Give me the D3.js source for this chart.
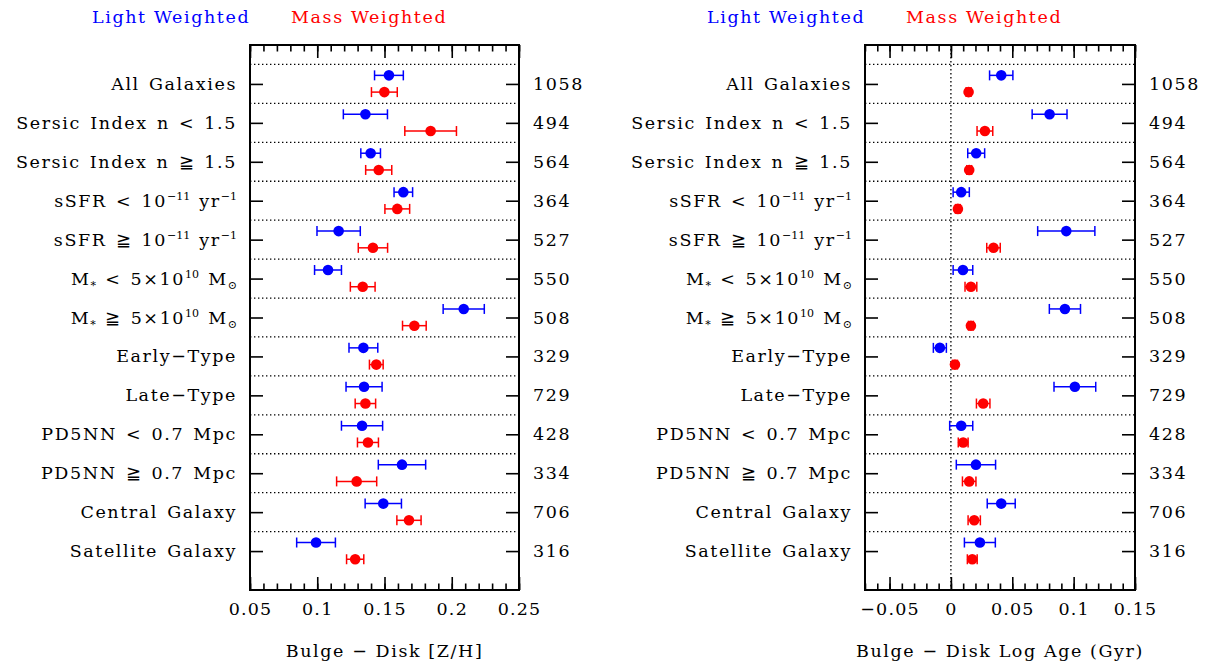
<!DOCTYPE html>
<html>
<head>
<meta charset="utf-8">
<script src="https://cdn.jsdelivr.net/npm/d3@7"></script>
<style>
  body { margin: 0; background: #fff; }
  text { font-family: "DejaVu Serif", serif; font-size: 17.5px; letter-spacing: 1.6px; fill: #000; }
  text.lab { word-spacing: 2px; }
</style>
</head>
<body>
<script>
// Row labels ( ^{..} superscript, _{..} subscript )
const categories = [
  'All Galaxies',
  'Sersic Index n < 1.5',
  'Sersic Index n ≧ 1.5',
  'sSFR < 10^{−11} yr^{−1}',
  'sSFR ≧ 10^{−11} yr^{−1}',
  'M_{*} < 5×10^{10} M_{⊙}',
  'M_{*} ≧ 5×10^{10} M_{⊙}',
  'Early−Type',
  'Late−Type',
  'PD5NN < 0.7 Mpc',
  'PD5NN ≧ 0.7 Mpc',
  'Central Galaxy',
  'Satellite Galaxy'
];
const counts = [1058, 494, 564, 364, 527, 550, 508, 329, 729, 428, 334, 706, 316];

// Bulge - Disk [Z/H]
const zhLight    = [0.1533, 0.1358, 0.1397, 0.1640, 0.1159, 0.1080, 0.2089, 0.1343, 0.1348, 0.1333, 0.1630, 0.1491, 0.0991];
const zhLightErr = [0.0107, 0.0164, 0.0073, 0.0069, 0.0161, 0.0100, 0.0153, 0.0107, 0.0134, 0.0153, 0.0176, 0.0135, 0.0144];
const zhMass     = [0.1499, 0.1843, 0.1457, 0.1595, 0.1414, 0.1338, 0.1722, 0.1439, 0.1358, 0.1377, 0.1293, 0.1682, 0.1282];
const zhMassErr  = [0.0096, 0.0192, 0.0097, 0.0092, 0.0109, 0.0092, 0.0088, 0.0051, 0.0076, 0.0078, 0.0149, 0.0090, 0.0064];

// Bulge - Disk Log Age
const ageLight    = [0.0410, 0.0804, 0.0206, 0.0084, 0.0940, 0.0098, 0.0929, -0.0090, 0.1010, 0.0084, 0.0204, 0.0410, 0.0236];
const ageLightErr = [0.0095, 0.0142, 0.0069, 0.0066, 0.0233, 0.0080, 0.0127, 0.0053, 0.0170, 0.0094, 0.0160, 0.0114, 0.0126];
const ageMass     = [0.0144, 0.0277, 0.0149, 0.0057, 0.0347, 0.0163, 0.0163, 0.0033, 0.0263, 0.0100, 0.0149, 0.0190, 0.0174];
const ageMassErr  = [0.0020, 0.0064, 0.0020, 0.0020, 0.0055, 0.0048, 0.0020, 0.0020, 0.0055, 0.0040, 0.0055, 0.0050, 0.0040];

const zhTicks = [0.05, 0.1, 0.15, 0.2, 0.25];
const zhTickLabels = ['0.05', '0.1', '0.15', '0.2', '0.25'];
const ageTicks = [-0.05, 0, 0.05, 0.1, 0.15];
const ageTickLabels = ['−0.05', '0', '0.05', '0.1', '0.15'];

const width = 1209, height = 665;
const svg = d3.select('body').append('svg')
  .attr('width', width)
  .attr('height', height);

const y = d3.scaleLinear().domain([0, 14]).range([45, 590]);
const rowIdx = d3.range(categories.length);

// write label with sub/superscripts as tspans
const richText = (sel, str) => {
  const parts = str.split(/(\^\{[^}]*\}|_\{[^}]*\})/).filter(s => s.length);
  let shift = 0;
  parts.forEach(p => {
    let dy = 0, size = null, txt = p;
    if (p.startsWith('^{')) { txt = p.slice(2, -1); dy = -7; size = '11px'; }
    else if (p.startsWith('_{')) { txt = p.slice(2, -1); dy = 4; size = '11px'; }
    const t = sel.append('tspan').attr('dy', dy - shift).text(txt);
    if (size) t.style('font-size', size).style('letter-spacing', '0px');
    shift = dy;
  });
  if (shift) sel.append('tspan').attr('dy', -shift).text('');
};

const drawPanel = (opts) => {
  const x = d3.scaleLinear().domain(opts.domain).range([opts.left, opts.right]);
  const g = svg.append('g');
  const top = y(0), bottom = y(14);

  // dotted row separators
  g.selectAll('line.sep')
    .data(d3.range(0.5, 13, 1))
    .join('line')
    .attr('x1', opts.left).attr('x2', opts.right)
    .attr('y1', d => y(d)).attr('y2', d => y(d))
    .attr('stroke', '#000')
    .attr('stroke-width', 1.3)
    .attr('stroke-dasharray', '1.4,2.6');

  if (opts.zeroLine) {
    g.append('line')
      .attr('x1', x(0)).attr('x2', x(0))
      .attr('y1', top).attr('y2', bottom)
      .attr('stroke', '#000')
      .attr('stroke-width', 1.3)
      .attr('stroke-dasharray', '1.4,2.6');
  }

  // x ticks, minor then major, on both top and bottom
  const minor = d3.range(Math.round(opts.domain[0] * 100), Math.round(opts.domain[1] * 100) + 1).map(d => d / 100);
  const axes = [
    [d3.axisBottom(x).tickValues(minor).tickSize(-6.5).tickFormat(''), bottom],
    [d3.axisTop(x).tickValues(minor).tickSize(-6.5).tickFormat(''), top],
    [d3.axisBottom(x).tickValues(opts.ticks).tickSize(-13).tickPadding(13)
      .tickFormat((d, i) => opts.tickLabels[i]), bottom],
    [d3.axisTop(x).tickValues(opts.ticks).tickSize(-13).tickFormat(''), top]
  ];
  axes.forEach(([ax, pos]) => {
    const a = g.append('g').attr('transform', `translate(0,${pos})`).call(ax);
    a.select('.domain').remove();
    a.selectAll('line').attr('stroke', '#000').attr('stroke-width', 1.6);
    a.selectAll('text').attr('font-family', null).attr('font-size', null)
      .style('font-size', '17.5px').style('letter-spacing', '1.2px');
  });

  // y ticks at rows, pointing inward from both sides
  [[d3.axisLeft(y), opts.right], [d3.axisRight(y), opts.left]].forEach(([ax, pos]) => {
    const a = g.append('g').attr('transform', `translate(${pos},0)`)
      .call(ax.tickValues(rowIdx.map(i => i + 1)).tickSize(13).tickFormat(''));
    a.select('.domain').remove();
    a.selectAll('line').attr('stroke', '#000').attr('stroke-width', 1.6);
  });

  // frame
  g.append('rect')
    .attr('x', opts.left).attr('y', top)
    .attr('width', opts.right - opts.left).attr('height', bottom - top)
    .attr('fill', 'none').attr('stroke', '#000').attr('stroke-width', 2);

  // points with error bars
  const series = [
    { vals: opts.light, errs: opts.lightErr, color: '#0000ff', off: -0.22 },
    { vals: opts.mass, errs: opts.massErr, color: '#ff0000', off: 0.21 }
  ];
  series.forEach(s => {
    const pts = rowIdx.map(i => ({ v: s.vals[i], e: s.errs[i], yy: y(i + 1 + s.off) }));
    const eg = g.append('g').attr('stroke', s.color).attr('stroke-width', 1.5).attr('fill', 'none');
    eg.selectAll('line.bar').data(pts).join('line').attr('class', 'bar')
      .attr('x1', d => x(d.v - d.e)).attr('x2', d => x(d.v + d.e))
      .attr('y1', d => d.yy).attr('y2', d => d.yy);
    eg.selectAll('line.capl').data(pts).join('line').attr('class', 'capl')
      .attr('x1', d => x(d.v - d.e)).attr('x2', d => x(d.v - d.e))
      .attr('y1', d => d.yy - 5).attr('y2', d => d.yy + 5);
    eg.selectAll('line.caph').data(pts).join('line').attr('class', 'caph')
      .attr('x1', d => x(d.v + d.e)).attr('x2', d => x(d.v + d.e))
      .attr('y1', d => d.yy - 5).attr('y2', d => d.yy + 5);
    g.append('g').selectAll('circle').data(pts).join('circle')
      .attr('cx', d => x(d.v)).attr('cy', d => d.yy)
      .attr('r', 5.3).attr('fill', s.color);
  });

  // row labels and counts
  g.selectAll('text.lab').data(categories).join('text')
    .attr('class', 'lab')
    .attr('x', opts.left - 13)
    .attr('y', (d, i) => y(i + 1) + 6)
    .attr('text-anchor', 'end')
    .each(function (d) { richText(d3.select(this), d); });

  g.selectAll('text.cnt').data(counts).join('text')
    .attr('class', 'cnt')
    .attr('x', opts.right + 14)
    .attr('y', (d, i) => y(i + 1) + 6)
    .text(d => d);

  // legend
  g.append('text').attr('x', opts.left - 158).attr('y', 23)
    .style('fill', '#0000ff').text('Light Weighted');
  g.append('text').attr('x', opts.left + 41).attr('y', 23)
    .style('fill', '#ff0000').text('Mass Weighted');

  // axis title
  g.append('text')
    .attr('x', (opts.left + opts.right) / 2)
    .attr('y', 657)
    .attr('text-anchor', 'middle')
    .text(opts.title);
};

drawPanel({
  left: 250, right: 519, domain: [0.05, 0.25],
  ticks: zhTicks, tickLabels: zhTickLabels,
  light: zhLight, lightErr: zhLightErr, mass: zhMass, massErr: zhMassErr,
  title: 'Bulge − Disk [Z/H]', zeroLine: false
});

drawPanel({
  left: 865, right: 1135, domain: [-0.07, 0.15],
  ticks: ageTicks, tickLabels: ageTickLabels,
  light: ageLight, lightErr: ageLightErr, mass: ageMass, massErr: ageMassErr,
  title: 'Bulge − Disk Log Age (Gyr)', zeroLine: true
});
</script>
</body>
</html>
